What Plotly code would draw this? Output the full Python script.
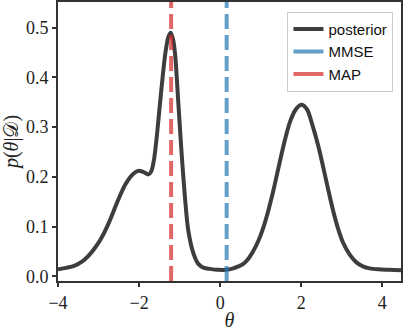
import plotly.graph_objects as go

theta = [-4.0, -3.8, -3.6, -3.4, -3.25, -3.1, -2.95, -2.75, -2.55, -2.35, -2.18, -2.02, -1.9, -1.77,
         -1.7, -1.63, -1.56, -1.49, -1.42, -1.35, -1.28, -1.22, -1.16, -1.11, -1.03, -0.95, -0.87,
         -0.79, -0.66, -0.54, -0.40, -0.25, -0.05, 0.15, 0.32, 0.45, 0.57, 0.69, 0.81, 0.94, 1.06,
         1.18, 1.31, 1.47, 1.6, 1.72, 1.86, 2.0, 2.14, 2.29, 2.42, 2.54, 2.66, 2.78, 2.9, 3.03, 3.2,
         3.36, 3.52, 3.69, 3.9, 4.15, 4.46]
density = [0.014, 0.017, 0.021, 0.030, 0.041, 0.056, 0.074, 0.107, 0.147, 0.183, 0.203, 0.212, 0.210,
           0.205, 0.211, 0.236, 0.284, 0.343, 0.400, 0.450, 0.481, 0.490, 0.476, 0.445, 0.346, 0.246,
           0.160, 0.094, 0.046, 0.025, 0.017, 0.015, 0.013, 0.013, 0.016, 0.020, 0.025, 0.035, 0.050,
           0.071, 0.097, 0.130, 0.172, 0.230, 0.275, 0.310, 0.335, 0.345, 0.336, 0.300, 0.262, 0.220,
           0.176, 0.134, 0.098, 0.068, 0.043, 0.028, 0.020, 0.016, 0.014, 0.013, 0.012]

estimate_names = ["MMSE", "MAP"]
estimate_values = [0.16, -1.21]
estimate_colors = ["rgba(31,119,180,0.7)", "rgba(214,39,40,0.7)"]

x_ticks = [-4, -2, 0, 2, 4]
y_ticks = [0.0, 0.1, 0.2, 0.3, 0.4, 0.5]

fig = go.Figure()
fig.add_trace(go.Scatter(x=theta, y=density, mode="lines", name="posterior",
                         line=dict(color="rgba(0,0,0,0.76)", width=4, shape="spline", smoothing=0.8)))
for name, val, col in zip(estimate_names, estimate_values, estimate_colors):
    fig.add_trace(go.Scatter(x=[None], y=[None], mode="lines", name=name,
                             line=dict(color=col, width=4)))
    fig.add_shape(type="line", xref="x", yref="paper", x0=val, x1=val, y0=0, y1=1,
                  line=dict(color=col, width=4, dash="15px,6px"), layer="above")

axis_common = dict(showgrid=False, zeroline=False, showline=True, linecolor="#333333",
                   linewidth=2, mirror=True, ticks="outside", ticklen=4, tickwidth=1.5,
                   tickcolor="#333333",
                   tickfont=dict(family="Liberation Serif", size=18, color="#222222"))

fig.update_layout(
    width=403, height=331,
    margin=dict(l=58, r=1, t=0, b=49),
    plot_bgcolor="white", paper_bgcolor="white",
    xaxis=dict(range=[-4, 4.46], tickvals=x_ticks,
               title=dict(text="<i>θ</i>", font=dict(family="Liberation Serif", size=20, color="#222"),
                          standoff=4),
               **axis_common),
    yaxis=dict(range=[-0.0094, 0.5517], tickvals=y_ticks, tickformat=".1f",
               title=dict(text="<i>p</i>(<i>θ</i>|𝒟)",
                          font=dict(family="Liberation Serif", size=20, color="#222"),
                          standoff=6),
               **axis_common),
    legend=dict(x=0.978, y=0.965, xanchor="right", yanchor="top",
                bgcolor="white", bordercolor="#cccccc", borderwidth=1,
                font=dict(family="Liberation Sans", size=15, color="#111"),
                tracegroupgap=0, itemwidth=30),
    showlegend=True,
)

fig.write_html("out.html")
